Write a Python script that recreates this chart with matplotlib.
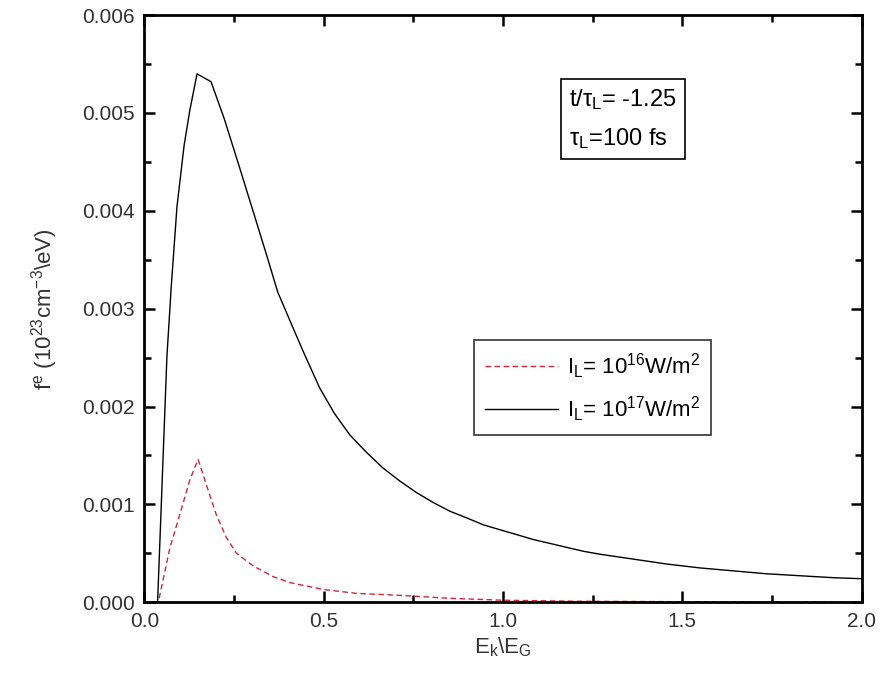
import numpy as np
import matplotlib
matplotlib.use("Agg")
import matplotlib.pyplot as plt
from matplotlib.ticker import MultipleLocator

plt.rcParams['font.family'] = ['Liberation Sans', 'DejaVu Sans']
plt.rcParams['mathtext.fontset'] = 'custom'
plt.rcParams['mathtext.rm'] = 'Liberation Sans'
plt.rcParams['mathtext.it'] = 'Liberation Sans:italic'

# I_L = 10^17 W/m^2 (black, solid)
x_hi = [0.0, 0.037, 0.063, 0.075, 0.091, 0.111, 0.127, 0.147, 0.186, 0.223, 0.265,
        0.303, 0.340, 0.372, 0.414, 0.447, 0.489, 0.530, 0.573, 0.620, 0.666,
        0.712, 0.759, 0.805, 0.852, 0.900, 0.946, 0.992, 1.039, 1.085, 1.132,
        1.178, 1.225, 1.271, 1.364, 1.457, 1.550, 1.643, 1.736, 1.830, 1.923, 2.0]
y_hi = [0.0, 0.0, 0.00251, 0.00322, 0.00404, 0.00467, 0.00503, 0.00540, 0.00532,
        0.00494, 0.00445, 0.00400, 0.00356, 0.00317, 0.00281, 0.00253, 0.00219,
        0.00193, 0.00171, 0.00153, 0.00137, 0.00124, 0.00112, 0.00102, 0.00093,
        0.00086, 0.00079, 0.00074, 0.00069, 0.00064, 0.00060, 0.00056, 0.00052,
        0.00049, 0.00044, 0.00039, 0.00035, 0.00032, 0.00029, 0.00027, 0.00025,
        0.00024]

# I_L = 10^16 W/m^2 (red, dashed)
x_lo = [0.0, 0.039, 0.071, 0.104, 0.127, 0.150, 0.173, 0.201, 0.229, 0.257, 0.304,
        0.360, 0.406, 0.499, 0.592, 0.713, 0.85, 1.0, 1.2, 1.5, 2.0]
y_lo = [0.0, 0.0, 0.00055, 0.00096, 0.00125, 0.00146, 0.00120, 0.00089, 0.00066,
        0.00050, 0.00037, 0.00026, 0.00020, 0.00013, 0.00009, 0.00007, 0.00004,
        0.00002, 0.00001, 0.000005, 0.0]

fig = plt.figure(figsize=(8.8, 6.89), dpi=100)
ax = fig.add_axes([0.164, 0.126, 0.815, 0.852])

ax.plot(x_lo, y_lo, color='#d0283a', ls=(0, (4, 2.5)), lw=1.0,
        label=r'I$_\mathregular{L}$= 10$^{16}$W/m$^2$')
ax.plot(x_hi, y_hi, color='black', lw=1.0,
        label=r'I$_\mathregular{L}$= 10$^{17}$W/m$^2$')

ax.set_xlim(0, 2.0)
ax.set_ylim(0, 0.006)
ax.xaxis.set_major_locator(MultipleLocator(0.5))
ax.xaxis.set_minor_locator(MultipleLocator(0.25))
ax.yaxis.set_major_locator(MultipleLocator(0.001))
ax.yaxis.set_minor_locator(MultipleLocator(0.0005))
ax.xaxis.set_major_formatter(plt.FormatStrFormatter('%.1f'))
ax.yaxis.set_major_formatter(plt.FormatStrFormatter('%.3f'))
ax.tick_params(which='both', direction='in', top=True, right=True,
               labelsize=15, width=1.8, colors='black', labelcolor='#333333')
ax.tick_params(which='major', length=8, pad=7)
ax.tick_params(which='minor', length=5)
for s in ax.spines.values():
    s.set_linewidth(2)

ax.set_xlabel(r'E$_\mathregular{k}$\E$_\mathregular{G}$', fontsize=16, labelpad=3,
              color='#333333')
ax.set_ylabel(r'f$^\mathregular{e}$ (10$^{23}$cm$^{-3}$\eV)', fontsize=16, labelpad=16,
              color='#333333')

ax.text(0.592, 0.878, 't/τ$_\\mathregular{L}$= -1.25\nτ$_\\mathregular{L}$=100 fs',
        transform=ax.transAxes, ha='left', va='top', fontsize=17, linespacing=1.75,
        bbox=dict(boxstyle='square,pad=0.35', fc='white', ec='black', lw=1.2))

leg = ax.legend(loc='upper left', bbox_to_anchor=(0.459, 0.446), borderaxespad=0,
                fontsize=16, frameon=True, fancybox=False, edgecolor='black',
                handlelength=3.3, handletextpad=0.4, labelspacing=0.6,
                borderpad=0.5)
leg.get_frame().set_linewidth(1.2)

fig.savefig('out.png', dpi=100)
